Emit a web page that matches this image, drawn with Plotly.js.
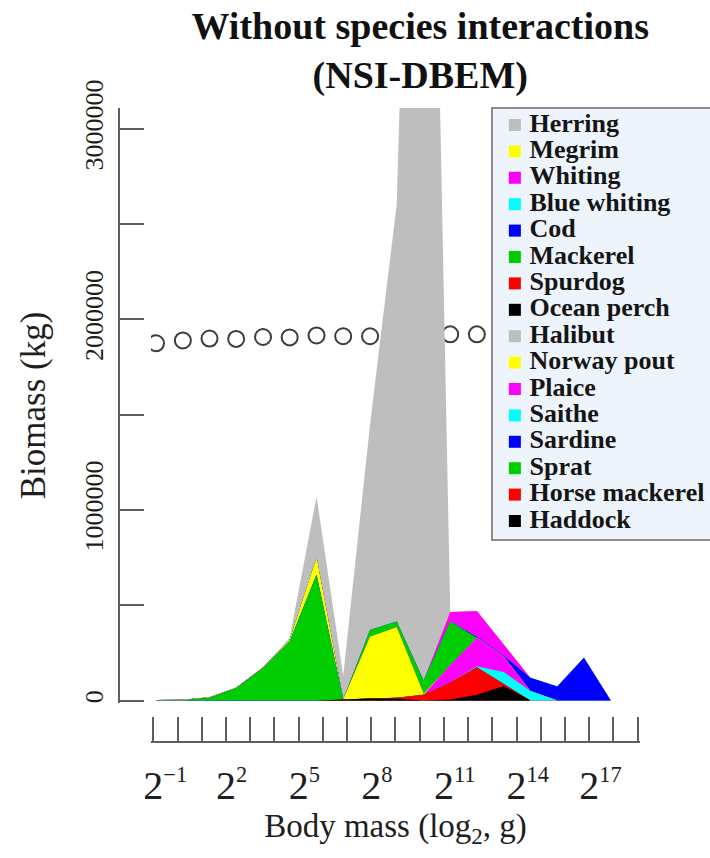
<!DOCTYPE html>
<html><head><meta charset="utf-8">
<script src="https://cdn.plot.ly/plotly-3.0.1.min.js"></script>
<style>html,body{margin:0;padding:0;background:#fff}#chart{width:710px;height:858px}</style>
</head><body><div id="chart"></div>
<script>
// ---------------- data ----------------
const species = ['Herring','Megrim','Whiting','Blue whiting','Cod','Mackerel','Spurdog','Ocean perch',
                 'Halibut','Norway pout','Plaice','Saithe','Sardine','Sprat','Horse mackerel','Haddock'];
const speciesColors = ['#bebebe','#ffff00','#ff00ff','#00ffff','#0000ff','#00cd00','#ff0000','#000000',
                       '#bebebe','#ffff00','#ff00ff','#00ffff','#0000ff','#00cd00','#ff0000','#000000'];

// size classes (log2 of body mass, g)
const log2Mass = [-0.89, 0.22, 1.32, 2.42, 3.53, 4.63, 5.74, 6.84, 7.95, 9.05, 10.16, 11.26, 12.36, 13.47, 14.57, 15.68, 16.78, 17.89];

// biomass (kg) per species and size class
const herring       = [0, 0, 0, 0, 0, 10000, 320000, 125000, 1080000, 2190000, 7300000, 0, 0, 0, 0, 0, 0, 0];
const megrim        = [0, 0, 0, 0, 0, 0, 0, 0, 0, 0, 0, 0, 0, 0, 0, 0, 0, 0];
const whiting       = [0, 0, 0, 0, 0, 0, 0, 0, 0, 0, 0, 50000, 135000, 62000, 0, 0, 0, 0];
const blueWhiting   = [0, 0, 0, 0, 0, 0, 0, 0, 0, 0, 0, 0, 0, 0, 0, 0, 0, 0];
const cod           = [0, 0, 0, 0, 0, 0, 0, 0, 0, 0, 0, 0, 5000, 5000, 70000, 74000, 225000, 0];
const mackerel      = [0, 0, 0, 0, 0, 0, 0, 0, 35000, 30000, 70000, 230000, 0, 0, 0, 0, 0, 0];
const spurdog       = [0, 0, 0, 0, 0, 0, 0, 0, 0, 0, 0, 0, 0, 0, 0, 0, 0, 0];
const oceanPerch    = [0, 0, 0, 0, 0, 0, 0, 0, 0, 0, 0, 0, 0, 0, 0, 0, 0, 0];
const halibut       = [0, 0, 0, 0, 0, 0, 0, 0, 0, 0, 0, 0, 0, 0, 0, 0, 0, 0];
const norwayPout    = [2000, 2000, 2000, 2000, 3000, 8000, 90000, 0, 325000, 370000, 5000, 0, 0, 0, 0, 0, 0, 0];
const plaice        = [0, 0, 0, 0, 0, 0, 0, 0, 0, 0, 0, 90000, 150000, 80000, 0, 0, 0, 0];
const saithe        = [0, 0, 0, 0, 0, 0, 0, 0, 0, 0, 0, 0, 5000, 64000, 50000, 0, 0, 0];
const sardine       = [0, 0, 0, 0, 0, 0, 0, 0, 0, 0, 0, 0, 0, 0, 0, 0, 0, 0];
const sprat         = [1000, 2000, 15000, 65000, 170000, 310000, 660000, 0, 0, 0, 0, 0, 0, 0, 0, 0, 0, 0];
const horseMackerel = [0, 0, 0, 0, 0, 0, 0, 0, 0, 5000, 30000, 90000, 145000, 10000, 0, 0, 0, 0];
const haddock       = [0, 0, 0, 0, 0, 0, 0, 5000, 10000, 10000, 0, 5000, 30000, 76000, 0, 0, 0, 0];

// community size spectrum (open circles)
const spectrumLog2Mass = [-0.89, 0.22, 1.32, 2.42, 3.53, 4.63, 5.74, 6.84, 7.95, 9.05, 10.16, 11.26, 12.36];
const spectrumBiomass  = [1875000, 1890000, 1900000, 1898000, 1908000, 1906000, 1916000, 1912000, 1912000, 1915000, 1918000, 1922000, 1922000];

// axis ticks (labelled major ticks + unlabelled minor ticks)
const xTickVals = [-1, 2, 5, 8, 11, 14, 17];
const xTickExponents = ['\u22121', '2', '5', '8', '11', '14', '17'];
const xMinorStep = 1;
const yTickVals = [0, 1000000, 2000000, 3000000];
const yTickText = ['0', '1000000', '2000000', '3000000'];
const yMinorStep = 500000;

// ---------------- build ----------------
const seriesList = [herring, megrim, whiting, blueWhiting, cod, mackerel, spurdog, oceanPerch,
                    halibut, norwayPout, plaice, saithe, sardine, sprat, horseMackerel, haddock];

// base "2" centred on the tick (an invisible copy of the exponent balances the visible one)
const xTickText = xTickExponents.map(e =>
  '<sup style="color:rgba(0,0,0,0)"><span style="font-size:80%">' + e + '</span></sup>2' +
  '<sup><span style="font-size:80%">' + e + '</span></sup>');

const serif = 'Liberation Serif, Times New Roman, serif';
const axisGray = '#5e5e5e';
const traces = [];

// open circles (drawn beneath the areas)
traces.push({
  type:'scatter', mode:'markers', x: spectrumLog2Mass, y: spectrumBiomass,
  marker:{symbol:'circle-open', size:16, color:'#3c3c3c', line:{width:2}},
  showlegend:false, hoverinfo:'skip', xaxis:'x', yaxis:'y'
});

// stacked areas: each polygon = sum of species i..end, drawn from top species down
for (let i = 0; i < seriesList.length; i++) {
  const cum = log2Mass.map((_, k) => {
    let s = 0;
    for (let j = i; j < seriesList.length; j++) s += seriesList[j][k];
    return s;
  });
  traces.push({
    type:'scatter', mode:'lines', x: log2Mass, y: cum, name: species[i],
    fill:'tozeroy', fillcolor: speciesColors[i], line:{width:0, color: speciesColors[i]},
    showlegend:false, hoverinfo:'skip', xaxis:'x', yaxis:'y'
  });
}

// legend drawn as its own small subplot
const legendIdx = species.map((_, i) => i);
traces.push({
  type:'scatter', mode:'markers', x: species.map(() => 0.105), y: legendIdx,
  marker:{symbol:'square', size:12, color: speciesColors, line:{width:0}},
  showlegend:false, hoverinfo:'skip', xaxis:'x2', yaxis:'y2', cliponaxis:false
});
traces.push({
  type:'scatter', mode:'text', x: species.map(() => 0.172), y: legendIdx, text: species,
  textposition:'middle right',
  textfont:{family: serif, size:26, weight:'bold', color:'#151515'},
  showlegend:false, hoverinfo:'skip', xaxis:'x2', yaxis:'y2', cliponaxis:false
});

const layout = {
  width:710, height:858,
  margin:{l:100, r:0, t:108, b:116},
  paper_bgcolor:'#ffffff', plot_bgcolor:'rgba(0,0,0,0)',
  showlegend:false,
  title:{
    text:'Without species interactions<br>(NSI-DBEM)',
    font:{family: serif, size:38, weight:'bold', color:'#111'},
    x:0.525, xref:'paper', xanchor:'center', y:0.9545, yref:'container', yanchor:'top'
  },
  xaxis:{
    domain:[0.08344, 0.88541], range:[-1.1, 19.1], anchor:'free', position:0,
    showline:true, linecolor:axisGray, linewidth:2,
    ticks:'inside', ticklen:24, tickwidth:2, tickcolor:axisGray,
    tickmode:'array', tickvals:xTickVals, ticktext:xTickText, tickangle:0, ticklabelstandoff:8,
    tickfont:{family: serif, size:40, color:'#1e1e1e'},
    minor:{tickmode:'linear', tick0:-1, dtick:xMinorStep, ticks:'inside', ticklen:24, tickwidth:2, tickcolor:axisGray, showgrid:false},
    showgrid:false, zeroline:false,
    title:{text:'Body mass (log<sub>2</sub>, g)', font:{family: serif, size:33, color:'#1e1e1e'}, standoff:6}
  },
  yaxis:{
    domain:[0.06151, 1], range:[-13000, 3110000], anchor:'free', position:0.0311, side:'left',
    showline:true, linecolor:axisGray, linewidth:2,
    ticks:'inside', ticklen:24, tickwidth:2, tickcolor:axisGray,
    tickmode:'array', tickvals:yTickVals, ticktext:yTickText, tickangle:-90, ticklabelstandoff:5,
    tickfont:{family: serif, size:26, color:'#1e1e1e'},
    minor:{tickmode:'linear', tick0:0, dtick:yMinorStep, ticks:'inside', ticklen:24, tickwidth:2, tickcolor:axisGray, showgrid:false},
    showgrid:false, zeroline:false,
    title:{text:'Biomass (kg)', font:{family: serif, size:35, color:'#1e1e1e'}, standoff:22}
  },
  xaxis2:{domain:[0.6426, 1], range:[0, 1], anchor:'y2', visible:false, fixedrange:true},
  yaxis2:{domain:[0.3186, 1], range:[15.72, -0.644], anchor:'x2', visible:false, fixedrange:true},
  shapes:[{
    type:'rect', xref:'x2 domain', yref:'y2 domain', x0:0, x1:1.03, y0:0, y1:1,
    fillcolor:'#eef4fb', line:{color:'#8a8a8a', width:2}, layer:'below'
  }]
};

Plotly.newPlot('chart', traces, layout, {displayModeBar:false, staticPlot:true});
</script>
</body></html>
